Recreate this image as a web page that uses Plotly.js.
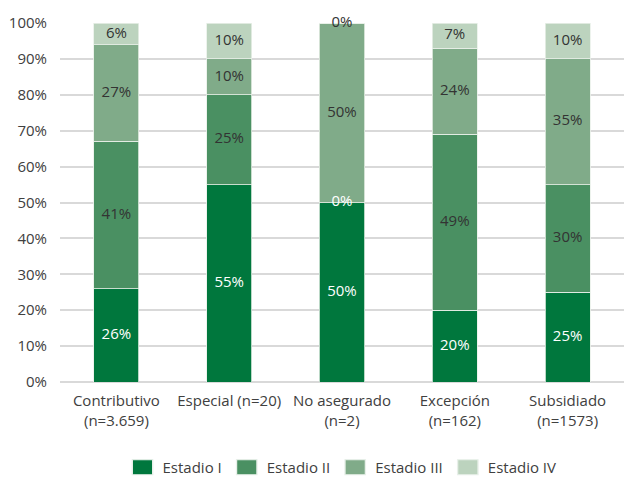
<!DOCTYPE html>
<html>
<head>
<meta charset="utf-8">
<script src="https://cdn.plot.ly/plotly-3.0.1.min.js"></script>
<style>
  html, body { margin: 0; padding: 0; background: #fff; overflow: hidden; }
</style>
</head>
<body>
<div id="graph"></div>
<script>
const categories = [
    "Contributivo<br>(n=3.659)",
    "Especial (n=20)",
    "No asegurado<br>(n=2)",
    "Excepción<br>(n=162)",
    "Subsidiado<br>(n=1573)",
]

const stageNames = ["Estadio I", "Estadio II", "Estadio III", "Estadio IV"]
const estadioI = [26, 55, 50, 20, 25]
const estadioII = [41, 25, 0, 49, 30]
const estadioIII = [27, 10, 50, 24, 35]
const estadioIV = [6, 10, 0, 7, 10]

const stageColors = ["#00773d", "#4a9062", "#80ab89", "#bcd3be"]
const labelColors = ["#ffffff", "#333333", "#333333", "#333333"]

const fontFamily = '"Open Sans", sans-serif'

const stages = [estadioI, estadioII, estadioIII, estadioIV]
const plotData = []

stages.forEach((values, i) => {
    plotData.push({
        type: "bar",
        name: stageNames[i],
        x: categories,
        y: values,
        marker: {color: stageColors[i], line: {color: "#e8f0e9", width: 0.8}},
        hoverinfo: "name+y",
    })
})

// labels at the middle of each segment, zero segments included
const base = categories.map(() => 0)
stages.forEach((values, i) => {
    const mids = values.map((v, j) => base[j] + v / 2)
    values.forEach((v, j) => { base[j] += v })
    // the lone 0% of Estadio II sits on dark green in the original, so it is white
    const colors = values.map(v => (i === 1 && v === 0) ? "#ffffff" : labelColors[i])
    plotData.push({
        type: "scatter",
        mode: "text",
        x: categories,
        y: mids,
        text: values.map(v => `${v}%`),
        textfont: {family: fontFamily, size: 15, color: colors},
        textposition: "middle center",
        cliponaxis: false,
        showlegend: false,
        hoverinfo: "skip",
    })
})

Plotly.newPlot("graph", plotData, {
    width: 624,
    height: 478,
    barmode: "stack",
    bargap: 0.6,
    margin: {l: 60, r: 0, t: 23, b: 96},
    font: {family: fontFamily, size: 15, color: "#404040"},
    paper_bgcolor: "#fff",
    plot_bgcolor: "#fff",
    xaxis: {
        type: "category",
        tickfont: {size: 15, color: "#404040"},
        showgrid: false,
        showline: false,
        ticks: "",
        ticklabelstandoff: 8,
        automargin: false,
    },
    yaxis: {
        range: [0, 100],
        dtick: 10,
        ticksuffix: "%",
        gridcolor: "#d9d9d9",
        gridwidth: 2,
        zeroline: true,
        zerolinecolor: "#d9d9d9",
        zerolinewidth: 2,
        ticklabelstandoff: 12,
        tickfont: {size: 15, color: "#404040"},
        automargin: false,
    },
    legend: {
        orientation: "h",
        x: 0.5,
        xanchor: "center",
        xref: "paper",
        yref: "container",
        y: 0.022,
        yanchor: "middle",
        traceorder: "normal",
        font: {size: 15, color: "#404040"},
        itemwidth: 30,
    },
    showlegend: true,
}, {displayModeBar: false, staticPlot: true}).then(() => {
    // the original uses wider legend swatches
    document.querySelectorAll(".legendpoints path").forEach(p => {
        p.setAttribute("transform", "translate(20,0) scale(1.7,1.25)")
    })
})
</script>
</body>
</html>
